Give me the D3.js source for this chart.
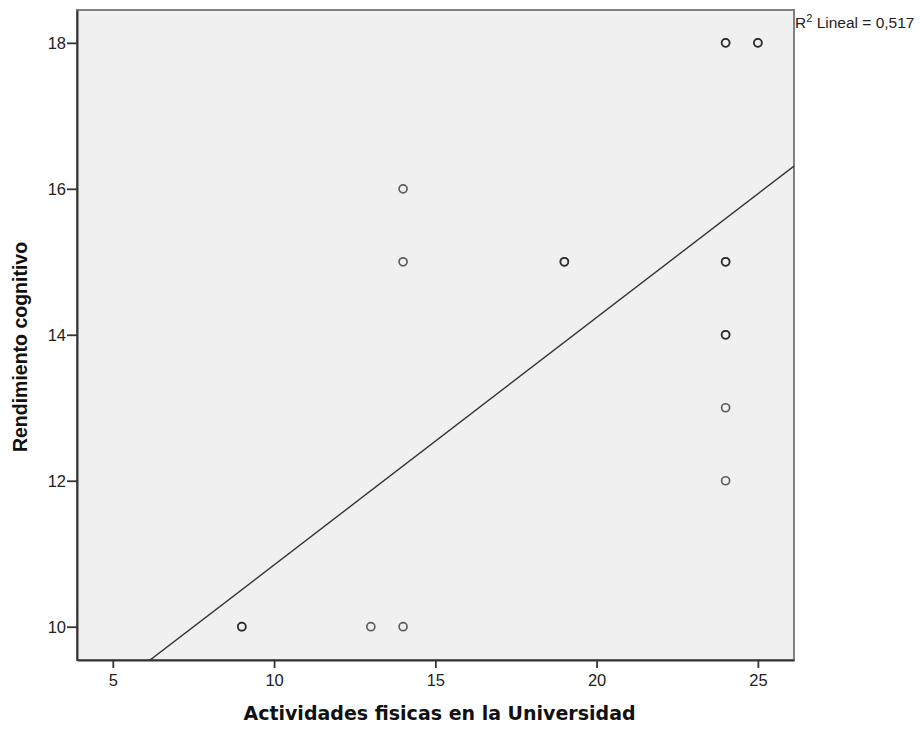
<!DOCTYPE html>
<html>
<head>
<meta charset="utf-8">
<script src="https://cdn.jsdelivr.net/npm/d3@7/dist/d3.min.js"></script>
<style>
  html, body { margin: 0; padding: 0; background: #ffffff; }
  svg { display: block; }
</style>
</head>
<body>
<svg id="chart" width="920" height="729"></svg>
<script>
// Observations: physical activity score vs cognitive performance (repeated pairs listed twice)
const actividades = [9, 9, 13, 14, 14, 14, 19, 19, 24, 24, 25, 25, 24, 24, 24, 24, 24, 24];
const rendimiento = [10, 10, 10, 10, 15, 16, 15, 15, 18, 18, 18, 18, 15, 15, 14, 14, 13, 12];

// Linear fit: [intercept, slope], and its R²
const ajusteLineal = [7.457, 0.339];
const r2Lineal = 0.517;

const xTicks = [5, 10, 15, 20, 25];
const yTicks = [10, 12, 14, 16, 18];

const svg = d3.select("#chart");
const plot = { left: 77, top: 10, right: 794, bottom: 660 };

const x = d3.scaleLinear().domain([3.89, 26.12]).range([plot.left, plot.right]);
const y = d3.scaleLinear().domain([9.544, 18.45]).range([plot.bottom, plot.top]);

// plot background and frame
svg.append("rect")
  .attr("x", plot.left).attr("y", plot.top)
  .attr("width", plot.right - plot.left).attr("height", plot.bottom - plot.top)
  .attr("fill", "#f0f0f0")
  .attr("stroke", "#808080").attr("stroke-width", 2);

// clip for the fit line
svg.append("clipPath").attr("id", "plotClip")
  .append("rect")
  .attr("x", plot.left).attr("y", plot.top)
  .attr("width", plot.right - plot.left).attr("height", plot.bottom - plot.top);

// regression line
const [b0, b1] = ajusteLineal;
const xs = x.domain();
svg.append("line")
  .attr("clip-path", "url(#plotClip)")
  .attr("x1", x(xs[0])).attr("y1", y(b0 + b1 * xs[0]))
  .attr("x2", x(xs[1])).attr("y2", y(b0 + b1 * xs[1]))
  .attr("stroke", "#333").attr("stroke-width", 1.4);

// points
const pts = actividades.map((a, i) => ({ a, r: rendimiento[i] }));
svg.append("g").selectAll("circle")
  .data(pts)
  .join("circle")
  .attr("cx", d => x(d.a))
  .attr("cy", d => y(d.r))
  .attr("r", 4)
  .attr("fill", "none")
  .attr("stroke", "#111")
  .attr("stroke-opacity", 0.65)
  .attr("stroke-width", 1.7);

// axes
const xAxis = d3.axisBottom(x).tickValues(xTicks).tickSize(8).tickSizeOuter(0).tickPadding(6);
const yAxis = d3.axisLeft(y).tickValues(yTicks).tickSize(10).tickSizeOuter(0).tickPadding(1);

const gx = svg.append("g").attr("transform", `translate(0,${plot.bottom})`).call(xAxis);
const gy = svg.append("g").attr("transform", `translate(${plot.left},0)`).call(yAxis);

[gx, gy].forEach(g => {
  g.select(".domain").attr("stroke", "#333").attr("stroke-width", 2);
  g.selectAll(".tick line").attr("stroke", "#333").attr("stroke-width", 1.8);
  g.selectAll(".tick text")
    .attr("fill", "#222")
    .attr("font-family", "'Liberation Sans', Arial, sans-serif")
    .attr("font-size", 16.5);
});

// axis titles
svg.append("text")
  .attr("x", (plot.left + plot.right) / 2 + 4)
  .attr("y", 720)
  .attr("text-anchor", "middle")
  .attr("font-family", "'DejaVu Sans', Verdana, sans-serif")
  .attr("font-weight", "bold")
  .attr("font-size", 19)
  .attr("fill", "#111")
  .text("Actividades fisicas en la Universidad");

svg.append("text")
  .attr("transform", `translate(27,347) rotate(-90)`)
  .attr("text-anchor", "middle")
  .attr("font-family", "'Liberation Sans', Arial, sans-serif")
  .attr("font-weight", "bold")
  .attr("font-size", 19.5)
  .attr("fill", "#111")
  .text("Rendimiento cognitivo");

// R² annotation
const ann = svg.append("text")
  .attr("x", plot.right + 1)
  .attr("y", 28)
  .attr("font-family", "'Liberation Sans', Arial, sans-serif")
  .attr("font-size", 15.5)
  .attr("fill", "#222");
ann.append("tspan").text("R");
ann.append("tspan").attr("dy", -6).attr("font-size", 11).text("2");
ann.append("tspan").attr("dy", 6).text(" Lineal = " + d3.format(".3f")(r2Lineal).replace(".", ","));
</script>
</body>
</html>
